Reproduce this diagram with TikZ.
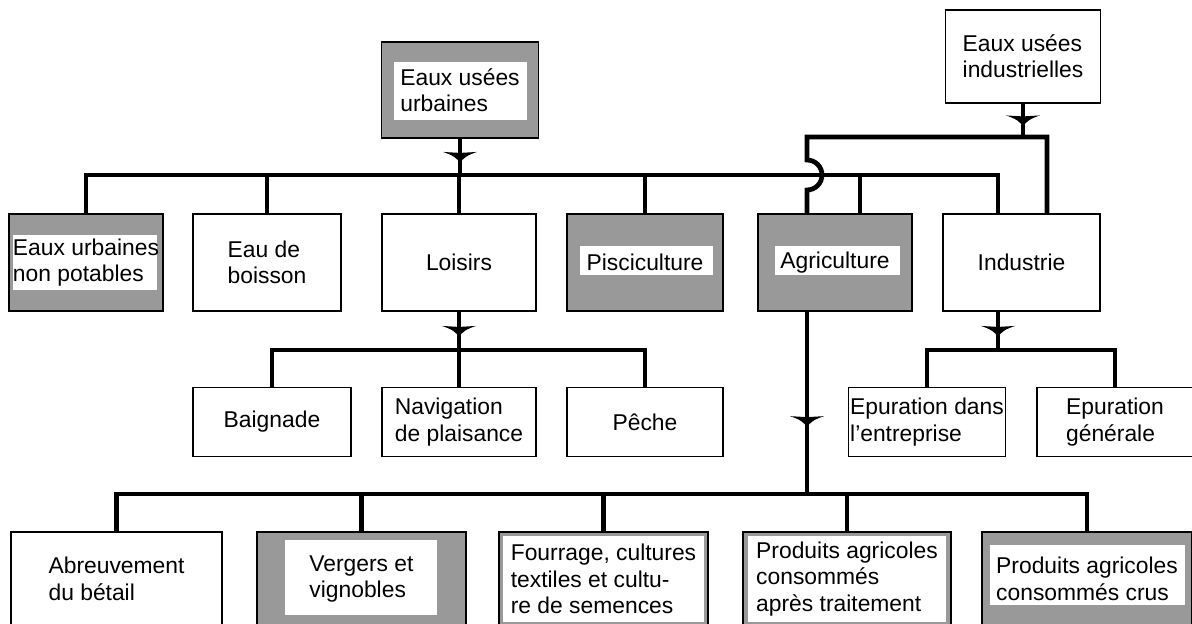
\documentclass[tikz,border=0pt]{standalone}
\usepackage{fontspec}
\setmainfont{Liberation Sans}
\usetikzlibrary{decorations.markings}
\definecolor{halftone}{gray}{0.6}

\tikzset{
  box/.style={draw, line width=1pt, fill=white, align=left, inner sep=1pt,
    minimum width=3.1cm, minimum height=1.94cm},
  low/.style={minimum height=1.38cm},
  wide/.style={minimum width=4.18cm, minimum height=1.88cm},
  halftone/.style n args={4}{fill=halftone, path picture={
    \fill[white] ([shift={(#1,-#3)}]path picture bounding box.north west)
      rectangle ([shift={(-#2,#4)}]path picture bounding box.south east);}},
  flow/.style={line width=2.7pt},
  valve/.style={postaction={decorate, decoration={markings, mark=at position #1 with {
    \fill (-0.1cm,0.34cm) .. controls (-0.04cm,0.16cm) and (0.02cm,0.05cm) .. (0.13cm,0)
      .. controls (0.02cm,-0.05cm) and (-0.04cm,-0.16cm) .. (-0.1cm,-0.34cm)
      -- (-0.08cm,0) -- cycle;}}}},
  valve/.default=0.5
}

\begin{document}
\begin{tikzpicture}[x=0.02cm, y=-0.02cm, font=\fontsize{13}{15}\selectfont]
  \useasboundingbox (0,0) rectangle (1192,624);
  \clip (0,0) rectangle (1192,624);

  % sources
  \node[box, minimum width=3.14cm, minimum height=1.92cm, halftone={0.24cm}{0.22cm}{0.4cm}{0.36cm}] (euu) at (460,90) {Eaux usées\\urbaines};
  \node[box, minimum height=1.86cm] (eui) at (1023,56.5) {Eaux usées\\industrielles};

  % uses
  \node[box, minimum width=3.08cm, halftone={0.08cm}{0.12cm}{0.42cm}{0.42cm}] (enp) at (86,262.5) {Eaux urbaines\\non potables};
  \node[box, minimum width=2.96cm] (boisson) at (267,262.5) {Eau de\\boisson};
  \node[box, minimum width=3.08cm] (loisirs) at (459,262.5) {Loisirs};
  \node[box, minimum width=3.12cm, halftone={0.26cm}{0.2cm}{0.64cm}{0.72cm}] (pisci) at (645,262.5) {Pisciculture};
  \node[box, minimum width=3.08cm, halftone={0.34cm}{0.24cm}{0.64cm}{0.72cm}] (agri) at (835,262.5) {Agriculture};
  \node[box, minimum width=3.14cm] (indus) at (1021.5,262.5) {Industrie};

  \node[box, low, minimum width=3.16cm] (baign) at (272,422) {Baignade};
  \node[box, low, minimum width=3.08cm] (navig) at (459,422) {Navigation\\de plaisance};
  \node[box, low, minimum width=3.12cm] (peche) at (645,422) {Pêche};
  \node[box, low, minimum width=3.12cm] (epdans) at (927,422) {Epuration dans\\l'entreprise};
  \node[box, low, minimum width=3.12cm] (epgen) at (1115,422) {Epuration\\générale};

  \node[box, wide, minimum width=4.22cm] (abreuv) at (116.5,579) {Abreuvement\\du bétail};
  \node[box, wide, halftone={0.56cm}{0.58cm}{0.16cm}{0.22cm}] (vergers) at (361.5,579) {Vergers et\\vignobles};
  \node[box, wide, halftone={0.08cm}{0.08cm}{0.08cm}{0.08cm}] (fourrage) at (603.5,579) {Fourrage, cultures\\textiles et cultu-\\re de semences};
  \node[box, wide, minimum width=4.16cm, halftone={0.1cm}{0.1cm}{0.08cm}{0.08cm}] (prodtrait) at (847,579) {Produits agricoles\\consommés\\après traitement};
  \node[box, wide, minimum width=4.2cm, halftone={0.16cm}{0.14cm}{0.26cm}{0.42cm}] (prodcrus) at (1087,579) {Produits agricoles\\consommés crus};

  \coordinate (bus) at (460,175);
  \coordinate (busR) at (998,175);
  \coordinate (agriIn) at (860,175);
  \coordinate (indL) at (807,137);
  \coordinate (indR) at (1047,137);
  \coordinate (hop) at (807,160);
  \coordinate (lbus) at (459,350);
  \coordinate (ibus) at (998,350);
  \coordinate (abus) at (807,494);

  % urban water
  \draw[flow, valve] (euu) -- (bus);
  \draw[flow] (enp.north) |- (busR) -- (indus.north -| busR);
  \foreach \n in {boisson,loisirs,pisci}
    \draw[flow] (\n.north) -- (\n.north |- bus);
  \draw[flow] (agriIn) -- (agri.north -| agriIn);

  % industrial water
  \draw[flow, valve] (eui) -- (eui |- indL);
  \draw[flow] (indus.north -| indR) -- (indR) -- (indL) -- (hop)
    arc[start angle=90, end angle=-90, radius=0.3cm] -- (agri.north -| hop);

  % leisure
  \draw[flow, valve] (loisirs) -- (lbus);
  \draw[flow] (baign.north) |- (peche.north |- lbus) -- (peche.north);
  \draw[flow] (navig.north) -- (navig.north |- lbus);

  % industry
  \draw[flow, valve] (indus.south -| ibus) -- (ibus);
  \draw[flow] (epdans.north) |- (epgen.north |- ibus) -- (epgen.north);

  % agriculture
  \draw[flow, valve=0.6] (agri.south -| abus) -- (abus);
  \draw[flow] (abreuv.north) |- (prodcrus.north |- abus) -- (prodcrus.north);
  \foreach \n in {vergers,fourrage,prodtrait}
    \draw[flow] (\n.north) -- (\n.north |- abus);
\end{tikzpicture}
\end{document}
